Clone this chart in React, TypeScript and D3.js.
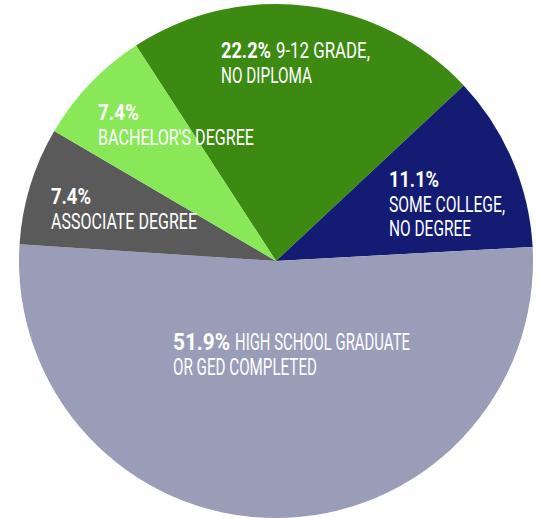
import React from "react";
import * as d3 from "d3";

const categories = [
  "9-12 GRADE, NO DIPLOMA",
  "SOME COLLEGE, NO DEGREE",
  "HIGH SCHOOL GRADUATE OR GED COMPLETED",
  "ASSOCIATE DEGREE",
  "BACHELOR'S DEGREE",
];
const values = [22.2, 11.1, 51.9, 7.4, 7.4];
const colors = ["#3d8a12", "#141b73", "#9a9db8", "#5a5a5a", "#88e858"];

// label text lines: rest of first line after the bold percent, then further lines
const labelLines: string[][] = [
  ["9-12 GRADE,", "NO DIPLOMA"],
  ["", "SOME COLLEGE,", "NO DEGREE"],
  ["HIGH SCHOOL GRADUATE", "OR GED COMPLETED"],
  ["", "ASSOCIATE DEGREE"],
  ["", "BACHELOR'S DEGREE"],
];

// layout (relative to pie centre): left x, first baseline, and fitted widths
const labelLayout = [
  { dx: -55, dy: -203, pctW: 50, firstW: 94, restW: [91], fs: 22 },
  { dx: 113, dy: -74, pctW: 50, firstW: 0, restW: [116, 82], fs: 22 },
  { dx: -103, dy: 89, pctW: 57, firstW: 175, restW: [144], fs: 23 },
  { dx: -225, dy: -57, pctW: 40, firstW: 0, restW: [146], fs: 22 },
  { dx: -178, dy: -141, pctW: 41, firstW: 0, restW: [156], fs: 22 },
];

const W = 539;
const H = 518;
const cx = 276;
const cy = 261;
const R = 257;
const lineH = 24.5;
const font = "Roboto, 'Noto Sans', sans-serif";

export default function App() {
  const start = (-33 * Math.PI) / 180;
  const pie = d3
    .pie<number>()
    .sort(null)
    .value((d) => d)
    .startAngle(start)
    .endAngle(start + 2 * Math.PI);
  const arcs = pie(values);
  const arc = d3.arc<d3.PieArcDatum<number>>().innerRadius(0).outerRadius(R);

  return (
    <svg
      width={W}
      height={H}
      style={{ position: "absolute", left: 0, top: 0 }}
    >
      <rect width={W} height={H} fill="#ffffff" />
      <g transform={`translate(${cx},${cy})`}>
        {arcs.map((a, i) => (
          <path key={categories[i]} d={arc(a) || ""} fill={colors[i]} />
        ))}
        {arcs.map((a, i) => {
          const L = labelLayout[i];
          const lines = labelLines[i];
          const pct = `${values[i].toFixed(1)}%`;
          const first = lines[0];
          const rest = lines.slice(1);
          return (
            <g key={"l" + i} fill="#ffffff" fontFamily={font} fontSize={L.fs}>
              <text
                x={L.dx}
                y={L.dy}
                fontWeight={700}
                textLength={L.pctW}
                lengthAdjust="spacingAndGlyphs"
              >
                {pct}
              </text>
              {first && (
                <text
                  x={L.dx + L.pctW + 5}
                  y={L.dy}
                  fontWeight={400}
                  textLength={L.firstW}
                  lengthAdjust="spacingAndGlyphs"
                >
                  {first}
                </text>
              )}
              {rest.map((t, j) => (
                <text
                  key={j}
                  x={L.dx}
                  y={L.dy + lineH * (j + 1)}
                  fontWeight={400}
                  textLength={L.restW[j]}
                  lengthAdjust="spacingAndGlyphs"
                >
                  {t}
                </text>
              ))}
            </g>
          );
        })}
      </g>
    </svg>
  );
}
